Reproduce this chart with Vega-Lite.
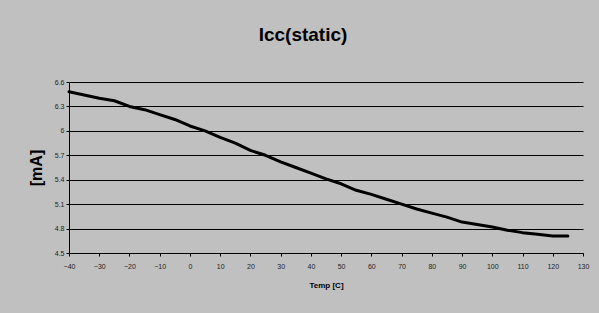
{
  "$schema": "https://vega.github.io/schema/vega-lite/v6.json",
  "autosize": {"type": "none"},
  "width": 514,
  "height": 171,
  "padding": {"left": 69, "top": 82, "right": 16, "bottom": 60},
  "background": "#c0c0c0",
  "title": {
    "text": "Icc(static)",
    "font": "Liberation Sans",
    "fontSize": 19,
    "fontWeight": "bold",
    "color": "#000000",
    "anchor": "middle",
    "dx": -23,
    "offset": 33
  },
  "data": {
    "values": [
      {"temp": -40, "icc": 6.48},
      {"temp": -35, "icc": 6.44},
      {"temp": -30, "icc": 6.40},
      {"temp": -25, "icc": 6.37},
      {"temp": -20, "icc": 6.30},
      {"temp": -15, "icc": 6.26},
      {"temp": -10, "icc": 6.20},
      {"temp": -5, "icc": 6.14},
      {"temp": 0, "icc": 6.06},
      {"temp": 5, "icc": 6.00},
      {"temp": 10, "icc": 5.92},
      {"temp": 15, "icc": 5.85},
      {"temp": 20, "icc": 5.76},
      {"temp": 25, "icc": 5.70},
      {"temp": 30, "icc": 5.62},
      {"temp": 35, "icc": 5.55},
      {"temp": 40, "icc": 5.48},
      {"temp": 45, "icc": 5.41},
      {"temp": 50, "icc": 5.35},
      {"temp": 55, "icc": 5.27},
      {"temp": 60, "icc": 5.22},
      {"temp": 65, "icc": 5.16},
      {"temp": 70, "icc": 5.10},
      {"temp": 75, "icc": 5.04},
      {"temp": 80, "icc": 4.99},
      {"temp": 85, "icc": 4.94},
      {"temp": 90, "icc": 4.88},
      {"temp": 95, "icc": 4.85},
      {"temp": 100, "icc": 4.82},
      {"temp": 105, "icc": 4.78},
      {"temp": 110, "icc": 4.75},
      {"temp": 115, "icc": 4.73},
      {"temp": 120, "icc": 4.71},
      {"temp": 125, "icc": 4.71}
    ]
  },
  "mark": {"type": "line", "color": "#000000", "strokeWidth": 3, "strokeJoin": "round", "strokeCap": "round"},
  "encoding": {
    "x": {
      "field": "temp",
      "type": "quantitative",
      "scale": {"domain": [-40, 130], "nice": false, "zero": false},
      "axis": {
        "title": "Temp [C]",
        "values": [-40, -30, -20, -10, 0, 10, 20, 30, 40, 50, 60, 70, 80, 90, 100, 110, 120, 130],
        "grid": false,
        "domainColor": "#000000",
        "tickColor": "#000000",
        "tickSize": 3,
        "labelFont": "Liberation Sans",
        "labelFontSize": 7,
        "labelColor": "#222222",
        "labelPadding": 6,
        "labelFlush": false,
        "titleFont": "Liberation Sans",
        "titleFontSize": 8,
        "titleFontWeight": "bold",
        "titleColor": "#000000",
        "titlePadding": 12
      }
    },
    "y": {
      "field": "icc",
      "type": "quantitative",
      "scale": {"domain": [4.5, 6.6], "nice": false, "zero": false},
      "axis": {
        "title": "[mA]",
        "values": [4.5, 4.8, 5.1, 5.4, 5.7, 6.0, 6.3, 6.6],
        "format": "~g",
        "grid": true,
        "gridColor": "#000000",
        "gridOpacity": 1,
        "domainColor": "#000000",
        "tickColor": "#000000",
        "tickSize": 3,
        "labelFont": "Liberation Sans",
        "labelFontSize": 7,
        "labelColor": "#222222",
        "labelPadding": 2,
        "labelFlush": false,
        "titleFont": "Liberation Sans",
        "titleFontSize": 16,
        "titleFontWeight": "bold",
        "titleColor": "#000000",
        "titlePadding": 10
      }
    }
  },
  "config": {
    "view": {"stroke": null}
  }
}
